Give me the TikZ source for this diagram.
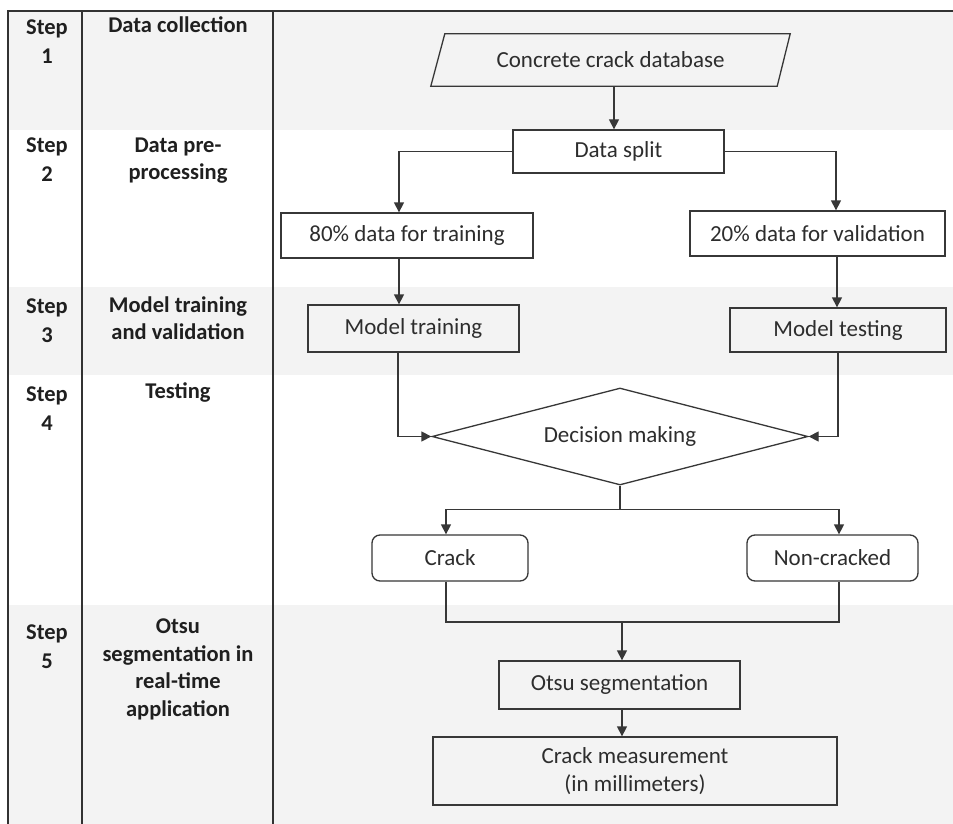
\documentclass[tikz,border=0pt]{standalone}
\usepackage{fontspec}
\setmainfont{Carlito}
\usetikzlibrary{arrows.meta,shapes.geometric}
\definecolor{band}{RGB}{243,243,243}
\definecolor{ln}{RGB}{55,55,55}
\definecolor{tl}{RGB}{50,50,50}
\definecolor{txt}{RGB}{45,45,45}
\begin{document}
\begin{tikzpicture}[x=1pt,y=-1pt,
  box/.style={draw=ln, line width=1.3pt, inner sep=0pt, align=center, text=txt,
    font=\fontsize{23}{28}\selectfont},
  plain/.style={inner sep=0pt, align=center, text=txt, font=\fontsize{23}{28}\selectfont},
  arr/.style={draw=ln, line width=1.3pt, -{Triangle[length=10pt,width=10pt]}},
  con/.style={draw=ln, line width=1.3pt},
  steplbl/.style={font=\bfseries\fontsize{22.5}{29}\selectfont, text=black!88, align=center, anchor=base, inner sep=0pt},
  desclbl/.style={font=\bfseries\fontsize{22.5}{27.5}\selectfont, text=black!88, align=center, anchor=base, inner sep=0pt}]
\useasboundingbox (0,0) rectangle (953,824);
\fill[white] (0,0) rectangle (953,824);
% bands
\fill[band] (8,11) rectangle (953,130);
\fill[band] (8,287) rectangle (953,375);
\fill[band] (8,605) rectangle (953,824);
% table lines
\draw[tl, line width=1.8pt] (8,824) -- (8,11) -- (953,11);
\draw[tl, line width=1.8pt] (82,11) -- (82,824);
\draw[tl, line width=1.8pt] (273,11) -- (273,824);
% step labels (anchor = baseline of last line)
\node[steplbl] (s1) at (47,64) {Step\\1};
\node[steplbl] (s2) at (47,182) {Step\\2};
\node[steplbl] (s3) at (47,342) {Step\\3};
\node[steplbl] (s4) at (47,430) {Step\\4};
\node[steplbl] (s5) at (47,668) {Step\\5};
\node[desclbl] (d1) at (178,33) {Data collection};
\node[desclbl] (d2) at (178,179.5) {Data pre-\\processing};
\node[desclbl] (d3) at (178,339.5) {Model training\\and validation};
\node[desclbl] (d4) at (178,398) {Testing};
\node[desclbl] (d5) at (178,716) {Otsu\\segmentation in\\real-time\\application};
% flow nodes
\node[plain, minimum width=359pt, minimum height=52pt] (db) at (610.5,60) {Concrete crack database};
\draw[con] (db.south west) -- ([xshift=14pt]db.north west) -- (db.north east) -- ([xshift=-13pt]db.south east) -- cycle;
\node[box, minimum width=211pt, minimum height=43pt] (split) at (618.5,151.5) {Data split};
\node[box, minimum width=252pt, minimum height=45pt] (tr80) at (407,235.5) {80\% data for training};
\node[box, minimum width=255pt, minimum height=45pt] (va20) at (817.5,233.5) {20\% data for validation};
\node[box, minimum width=211pt, minimum height=47pt] (mtrain) at (413.5,328.5) {Model training};
\node[box, minimum width=216pt, minimum height=44pt] (mtest) at (838,330) {Model testing};
\node[box, shape=diamond, aspect=3.9, minimum width=376pt, minimum height=97pt] (dec) at (620,436.5) {Decision making};
\node[box, rounded corners=8pt, minimum width=156pt, minimum height=46pt] (crack) at (450,558) {Crack};
\node[box, rounded corners=8pt, minimum width=171pt, minimum height=46pt] (noncr) at (832.5,558) {Non-cracked};
\node[box, minimum width=241pt, minimum height=48pt] (otsu) at (619.5,685) {Otsu segmentation};
\node[box, minimum width=404pt, minimum height=68pt] (meas) at (635,771) {Crack measurement\\(in millimeters)};
% connectors
\draw[arr] ([xshift=3.5pt]db.south) -- ([xshift=-4.5pt]split.north);
\draw[arr] (split.west) -| ([xshift=-8pt]tr80.north);
\draw[arr] (split.east) -| ([xshift=18.5pt]va20.north);
\draw[arr] ([xshift=-8pt]tr80.south) -- ([xshift=-8pt]tr80.south |- mtrain.north);
\draw[arr] ([xshift=19.5pt]va20.south) -- ([xshift=19.5pt]va20.south |- mtest.north);
\draw[arr] ([xshift=-15.5pt]mtrain.south) |- (dec.west);
\draw[arr] (mtest.south) |- (dec.east);
\coordinate (br) at ([yshift=-24pt]dec.south);
\draw[con] (dec.south) -- (br);
\draw[arr] (br) -| ([xshift=-4pt]crack.north);
\draw[arr] (br) -| ([xshift=6.5pt]noncr.north);
\coordinate (mg) at (622,622);
\draw[con] ([xshift=-4pt]crack.south) |- (mg) -| ([xshift=6.5pt]noncr.south);
\draw[arr] (mg) -- (mg |- otsu.north);
\draw[arr] ([xshift=2.5pt]otsu.south) -- ([xshift=2.5pt]otsu.south |- meas.north);
\end{tikzpicture}
\end{document}
